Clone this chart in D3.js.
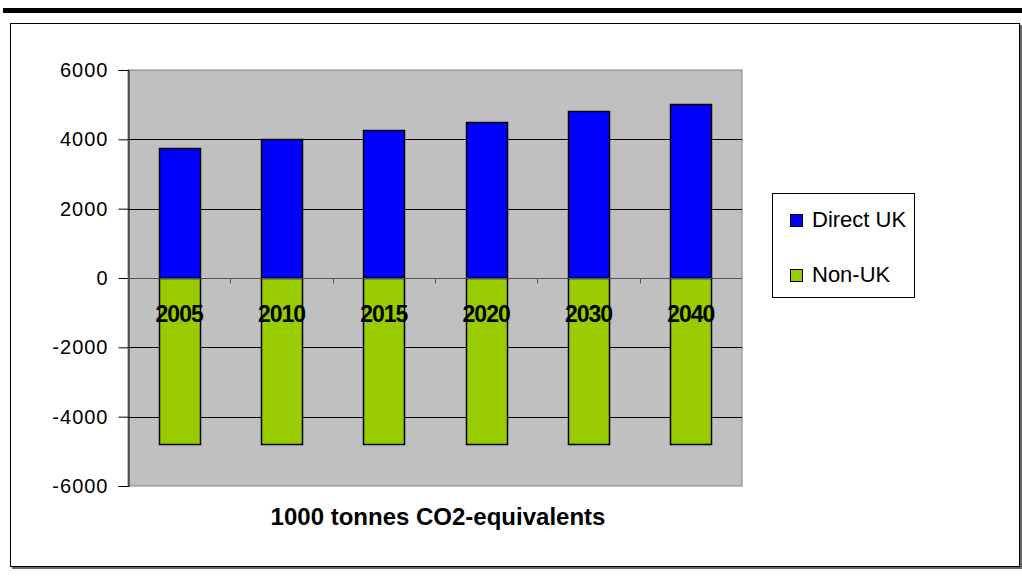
<!DOCTYPE html>
<html>
<head>
<meta charset="utf-8">
<script src="https://cdn.jsdelivr.net/npm/d3@7"></script>
<style>
  body { margin: 0; background: #fff; }
  text { font-family: "Liberation Sans", Arial, sans-serif; fill: #000; }
</style>
</head>
<body>
<div id="chart"></div>
<script>
var years = ["2005", "2010", "2015", "2020", "2030", "2040"];
var directUK = [3750, 4010, 4270, 4500, 4820, 5020];
var nonUK = [-4800, -4800, -4800, -4800, -4800, -4800];
var seriesNames = ["Direct UK", "Non-UK"];
var seriesColors = ["#0000ff", "#99cc00"];
var yTicks = [-6000, -4000, -2000, 0, 2000, 4000, 6000];
var axisTitle = "1000 tonnes CO2-equivalents";

var width = 1022, height = 578;
var plot = {left: 128, right: 742, top: 70, bottom: 486};

var svg = d3.select("#chart").append("svg")
    .attr("width", width)
    .attr("height", height);

// top rule and chart frame with shadow
svg.append("rect").attr("x", 3).attr("y", 8).attr("width", 1019).attr("height", 5).attr("fill", "#000");
svg.append("rect").attr("x", 12).attr("y", 25).attr("width", 1010).attr("height", 544).attr("fill", "#666");
svg.append("rect").attr("x", 10.5).attr("y", 23.5).attr("width", 1009).attr("height", 543)
    .attr("fill", "#fff").attr("stroke", "#000");

var x = d3.scaleBand()
    .domain(years)
    .range([plot.left, plot.right])
    .paddingInner(0.6)
    .paddingOuter(0.3);

var y = d3.scaleLinear()
    .domain([-6000, 6000])
    .range([plot.bottom, plot.top]);

// plot area
svg.append("rect")
    .attr("x", plot.left).attr("y", plot.top)
    .attr("width", plot.right - plot.left).attr("height", plot.bottom - plot.top)
    .attr("fill", "#c0c0c0").attr("stroke", "#808080");

// gridlines
svg.selectAll(".grid")
    .data(yTicks.filter(function(d) { return d !== 6000 && d !== -6000 && d !== 0; }))
  .enter().append("line")
    .attr("class", "grid")
    .attr("x1", plot.left).attr("x2", plot.right)
    .attr("y1", function(d) { return Math.round(y(d)) + 0.5; })
    .attr("y2", function(d) { return Math.round(y(d)) + 0.5; })
    .attr("stroke", "#000");

// y axis
var yAxis = d3.axisLeft(y).tickValues(yTicks).tickSize(10).tickPadding(10)
    .tickFormat(function(d) { return String(d); });
var gy = svg.append("g")
    .attr("transform", "translate(" + (plot.left + 0.5) + ",0)")
    .call(yAxis);
gy.select(".domain").attr("stroke", "#000");
gy.selectAll(".tick line").attr("stroke", "#000");
gy.selectAll(".tick text")
    .attr("font-size", "20px")
    .attr("letter-spacing", "1px")
    .attr("x", -20)
    .attr("font-family", "Liberation Sans, Arial, sans-serif");

// bars
var seriesData = [directUK, nonUK];
seriesData.forEach(function(vals, s) {
  svg.selectAll(".bar" + s)
      .data(vals)
    .enter().append("rect")
      .attr("class", "bar" + s)
      .attr("x", function(d, i) { return Math.round(x(years[i])) + 0.5; })
      .attr("width", Math.round(x.bandwidth()))
      .attr("y", function(d) { return Math.round(y(Math.max(0, d))) + 0.5; })
      .attr("height", function(d) { return Math.round(Math.abs(y(d) - y(0))); })
      .attr("fill", seriesColors[s])
      .attr("stroke", "#000")
      .attr("stroke-width", 1.5);
});

// x axis on the zero line
var zeroY = Math.round(y(0)) + 0.5;
svg.append("line")
    .attr("x1", plot.left).attr("x2", plot.right)
    .attr("y1", zeroY).attr("y2", zeroY)
    .attr("stroke", "#555");
svg.selectAll(".xtick")
    .data(d3.range(1, years.length))
  .enter().append("line")
    .attr("class", "xtick")
    .attr("x1", function(i) { return Math.round(plot.left + i * (plot.right - plot.left) / years.length) + 0.5; })
    .attr("x2", function(i) { return Math.round(plot.left + i * (plot.right - plot.left) / years.length) + 0.5; })
    .attr("y1", zeroY).attr("y2", zeroY + 5)
    .attr("stroke", "#555");

svg.selectAll(".xlabel")
    .data(years)
  .enter().append("text")
    .attr("class", "xlabel")
    .attr("x", function(d) { return x(d) + x.bandwidth() / 2; })
    .attr("y", 322)
    .attr("text-anchor", "middle")
    .attr("font-size", "23px")
    .attr("font-weight", "bold")
    .attr("letter-spacing", "-1px")
    .text(function(d) { return d; });

// axis title
svg.append("text")
    .attr("x", 438)
    .attr("y", 525)
    .attr("text-anchor", "middle")
    .attr("font-size", "24px")
    .attr("font-weight", "bold")
    .text(axisTitle);

// legend
var legend = svg.append("g");
legend.append("rect")
    .attr("x", 772.5).attr("y", 193.5).attr("width", 142).attr("height", 104)
    .attr("fill", "#fff").attr("stroke", "#000");
var items = legend.selectAll(".item")
    .data(seriesNames)
  .enter().append("g")
    .attr("class", "item")
    .attr("transform", function(d, i) { return "translate(790," + (214 + i * 55) + ")"; });
items.append("rect")
    .attr("x", 0.5).attr("y", 0.5).attr("width", 12).attr("height", 12)
    .attr("fill", function(d, i) { return seriesColors[i]; })
    .attr("stroke", "#000");
items.append("text")
    .attr("x", 22)
    .attr("y", 13)
    .attr("font-size", "22px")
    .text(function(d) { return d; });
</script>
</body>
</html>
